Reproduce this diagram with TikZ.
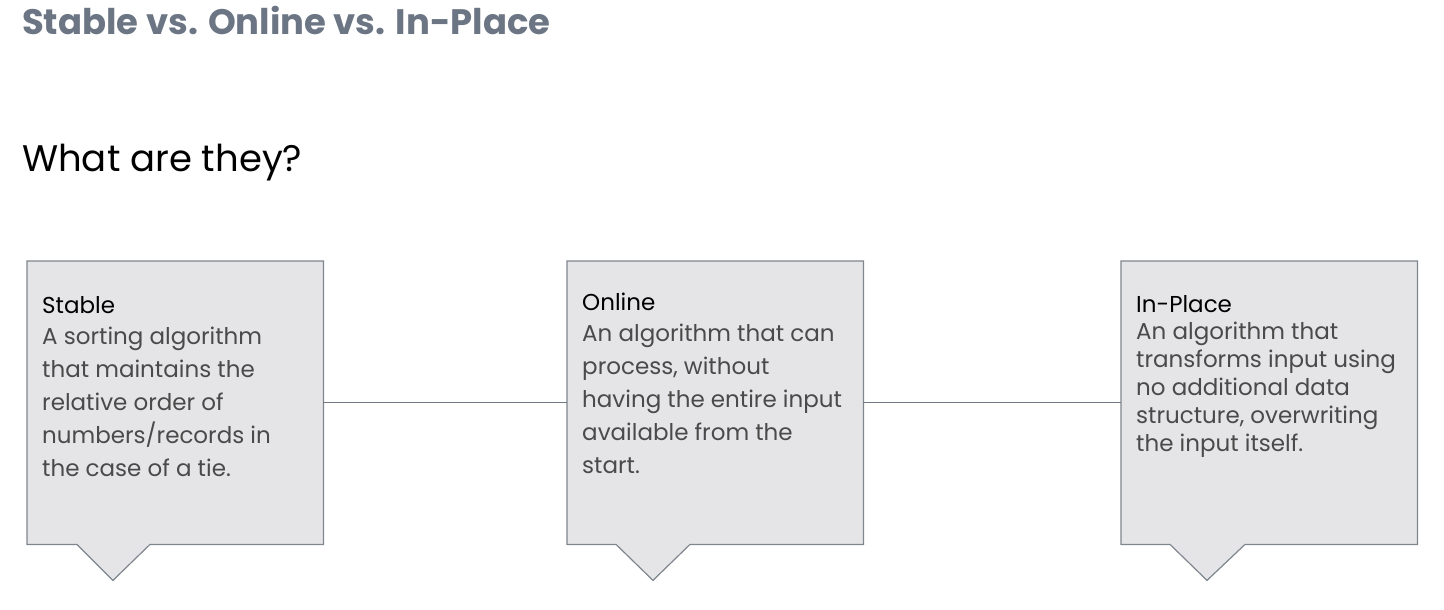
\documentclass[tikz,border=0pt]{standalone}
\usepackage{fontspec}
\setmainfont{Poppins}
\usetikzlibrary{calc}
\definecolor{titlegray}{HTML}{6B7583}
\definecolor{boxfill}{HTML}{E5E5E7}
\definecolor{boxline}{HTML}{7F868E}
\definecolor{connline}{HTML}{6F7883}
\definecolor{bodytext}{HTML}{4A4A4A}
\begin{document}
\begin{tikzpicture}[x=1pt,y=-1pt,
  boxframe/.style={draw=none,minimum width=296pt,minimum height=283pt,inner sep=0pt,anchor=north west},
  boxshape/.style={draw=boxline,fill=boxfill,line width=1.2pt},
  conn/.style={draw=connline,line width=1.2pt},
  headtxt/.style={anchor=base west,inner sep=0pt,font=\fontsize{23}{27}\selectfont,text=black},
  bodytxt/.style={anchor=base west,inner sep=0pt,align=left,text=bodytext},
]
\useasboundingbox (0,0) rectangle (1444,610);
\node[anchor=base west,inner sep=0pt,text=titlegray,font=\fontsize{35.4}{42}\selectfont\bfseries] (title) at (22,35) {Stable vs. Online vs. In-Place};
\node[anchor=base west,inner sep=0pt,font=\fontsize{37}{44}\selectfont] (question) at (22,171) {What are they?};

\node[boxframe] (stable) at (27,261) {};
\node[boxframe] (online) at (567,261) {};
\node[boxframe] (inplace) at (1121,261) {};

\foreach \b/\l/\t/\r in {stable/50/86/123, online/49/86/123, inplace/49/86/124}{
  \draw[boxshape] (\b.north west) -- (\b.north east) -- (\b.south east)
    -- ($(\b.south west)+(\r,0)$) -- ($(\b.south west)+(\t,36)$)
    -- ($(\b.south west)+(\l,0)$) -- (\b.south west) -- cycle;
}

\draw[conn] (stable.east) -- (online.west);
\draw[conn] (online.east) -- (inplace.west);

\node[headtxt] (shead) at (42,313) {Stable};
\node[bodytxt,font=\fontsize{23}{33}\selectfont] (sbody) at (42,476) {A sorting algorithm\\that maintains the\\relative order of\\numbers/records in\\the case of a tie.};

\node[headtxt] (ohead) at (582,310) {Online};
\node[bodytxt,font=\fontsize{23}{33}\selectfont] (obody) at (582,473) {An algorithm that can\\process, without\\having the entire input\\available from the\\start.};

\node[headtxt] (ihead) at (1136,312) {In-Place};
\node[bodytxt,font=\fontsize{23}{27.8}\selectfont] (ibody) at (1136,451) {An algorithm that\\transforms input using\\no additional data\\structure, overwriting\\the input itself.};
\end{tikzpicture}
\end{document}
